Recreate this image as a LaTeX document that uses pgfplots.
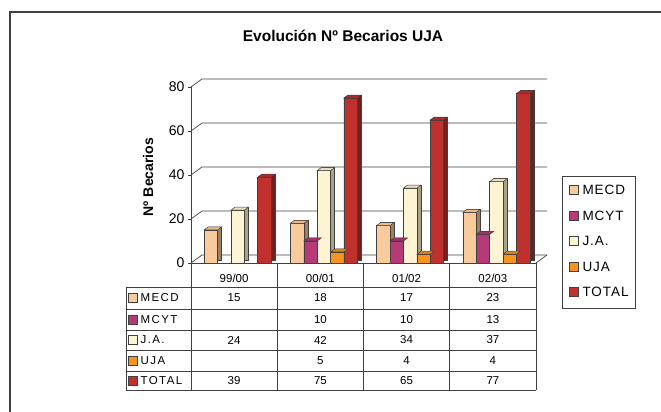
\documentclass[border=0pt]{standalone}
\usepackage{fontspec}
\setmainfont{Liberation Sans}
\usepackage{pgfplots}
\usepackage{pgfplotstable}
\pgfplotsset{compat=1.18}

\definecolor{mecdF}{HTML}{F9CB9C}\definecolor{mecdS}{HTML}{A0805C}\definecolor{mecdT}{HTML}{EDBB8A}
\definecolor{mcytF}{HTML}{B63A78}\definecolor{mcytS}{HTML}{70214B}\definecolor{mcytT}{HTML}{A2326B}
\definecolor{jaF}{HTML}{FCF4D2}\definecolor{jaS}{HTML}{A9A386}\definecolor{jaT}{HTML}{E8E0BA}
\definecolor{ujaF}{HTML}{F7941D}\definecolor{ujaS}{HTML}{A55F12}\definecolor{ujaT}{HTML}{E28518}
\definecolor{totF}{HTML}{C0312E}\definecolor{totS}{HTML}{72201D}\definecolor{totT}{HTML}{B02A28}
\colorlet{edge}{black!75}

\pgfplotstableread{
x MECD MCYT JA UJA TOTAL
0 15 nan 24 nan 39
1 18 10 42 5 75
2 17 10 34 4 65
3 23 13 37 4 77
}\data

\pgfdeclareplotmark{top3d}{%
  \pgfpathmoveto{\pgfqpoint{-6.7pt}{0pt}}%
  \pgfpathlineto{\pgfqpoint{6.7pt}{0pt}}%
  \pgfpathlineto{\pgfqpoint{10.7pt}{3pt}}%
  \pgfpathlineto{\pgfqpoint{-2.7pt}{3pt}}%
  \pgfpathclose\pgfusepathqfillstroke}

\pgfplotsset{mylegend/.style={legend image code/.code={%
  \draw[##1, draw=edge, line width=0.7pt] (0pt,-3.4pt) rectangle (9pt,5.6pt);
  \path (12.8pt,0pt);}}}

\newcommand{\series}[5]{%
  \addplot[ybar, bar width=13.4pt, bar shift=#2pt, fill=#4, draw=edge, line width=0.5pt,
    xshift=4pt, yshift=3pt, forget plot] table[x=x,y=#1]{\data};
  \addplot[ybar, bar width=13.4pt, bar shift=#2pt, fill=#3, draw=edge, line width=0.5pt,
    mylegend] table[x=x,y=#1]{\data};
  \addplot[only marks, mark=top3d, mark options={fill=#5, draw=edge, line width=0.5pt},
    xshift=#2pt, forget plot] table[x=x,y=#1]{\data};
}

\begin{document}
\begin{tikzpicture}
\useasboundingbox (0,0) rectangle (661pt,412pt);
\draw[line width=1.4pt, black!75] (10pt,0pt) -- (10pt,400pt) -- (661pt,400pt);

\begin{axis}[
  at={(191pt,149pt)}, anchor=south west, scale only axis,
  width=345pt, height=176pt,
  xmin=-0.5, xmax=3.5, ymin=0, ymax=80, clip=false,
  axis x line=bottom, axis y line=left,
  axis line style={-, draw=edge, line width=0.7pt},
  xtick={0,1,2,3}, xticklabels={99/00,00/01,01/02,02/03},
  x tick style={draw=none},
  xticklabel style={font=\fontsize{11.5}{11.5}\selectfont, anchor=center, yshift=-12.7pt},
  ytick={0,20,40,60,80},
  y tick style={draw=edge, line width=0.7pt},
  tick align=outside, major tick length=3pt,
  yticklabel style={font=\fontsize{14}{14}\selectfont, anchor=east},
  /pgf/number format/assume math mode=true,
  title={Evolución Nº Becarios UJA},
  title style={at={(axis description cs:0.4406,1.257)}, anchor=center,
    font=\bfseries\fontsize{15.5}{15.5}\selectfont},
  ylabel={Nº Becarios},
  ylabel style={at={(axis description cs:-0.1246,0.4886)}, anchor=center,
    font=\bfseries\fontsize{14}{14}\selectfont},
  legend cell align=left,
  legend style={at={(axis description cs:1.076,0.4943)}, anchor=north west,
    draw=edge, line width=0.8pt, inner xsep=6.5pt, inner ysep=9pt, row sep=13.5pt,
    font=\fontsize{13.5}{13.5}\selectfont\addfontfeatures{LetterSpace=7},
    nodes={inner sep=0pt, text height=9.5pt, text depth=2.5pt}},
]
\pgfplotsinvokeforeach{0,20,40,60,80}{
  \draw[edge, line width=0.7pt] (axis cs:-0.5,#1) -- ++(11pt,8pt)
     -- ([shift={(11pt,8pt)}]axis cs:3.5,#1);
}
\draw[edge, line width=0.7pt] (axis cs:3.5,0) -- ++(11pt,8pt);

\series{MECD}{-23.3}{mecdF}{mecdS}{mecdT}
\addlegendentry{MECD}
\series{MCYT}{-9.9}{mcytF}{mcytS}{mcytT}
\addlegendentry{MCYT}
\series{JA}{3.5}{jaF}{jaS}{jaT}
\addlegendentry{J.A.}
\series{UJA}{16.9}{ujaF}{ujaS}{ujaT}
\addlegendentry{UJA}
\series{TOTAL}{30.3}{totF}{totS}{totT}
\addlegendentry{TOTAL}
\end{axis}

% data table below the plot
\begin{scope}[edge, line width=0.8pt]
  \foreach \x in {191,277.25,363.5,449.75,536} \draw (\x pt,149pt) -- (\x pt,22pt);
  \draw (126pt,125pt) -- (126pt,22pt);
  \foreach \y in {125,103,82,62,41,22} \draw (126pt,\y pt) -- (536pt,\y pt);
\end{scope}
\begin{scope}[font=\fontsize{11.5}{11.5}\selectfont]
  \foreach \y/\lab/\col/\a/\b/\c/\d in {
      114/MECD/mecdF/15/18/17/23,
      92.5/MCYT/mcytF//10/10/13,
      72/J.A./jaF/24/42/34/37,
      51.5/UJA/ujaF//5/4/4,
      31.5/TOTAL/totF/39/75/65/77}{
    \draw[fill=\col, draw=edge, line width=0.7pt] (128.5pt,\y pt-4.5pt) rectangle (137.5pt,\y pt+4.5pt);
    \node[anchor=west, inner sep=0pt] at (140.5pt,\y pt) {\addfontfeatures{LetterSpace=12}\lab};
    \node at (234.1pt,\y pt) {\a};
    \node at (320.4pt,\y pt) {\b};
    \node at (406.6pt,\y pt) {\c};
    \node at (492.9pt,\y pt) {\d};
  }
\end{scope}
\end{tikzpicture}
\end{document}
